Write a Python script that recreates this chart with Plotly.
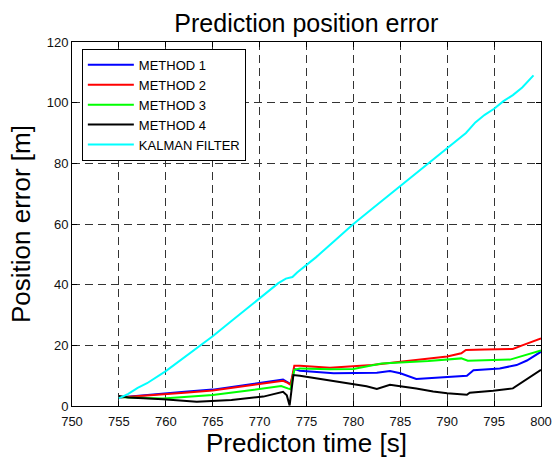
import plotly.graph_objects as go

# ---- data ----
kalman_t = [755, 756, 757, 758, 760, 762, 764, 765, 767, 769, 771, 772, 772.8, 773.5, 774, 776, 778, 780,
            782, 784, 786, 788, 790, 792, 793, 794, 795, 796, 797, 798, 799.2]
kalman_e = [2.5, 4, 6, 7.5, 11.5, 16, 20.5, 23, 28, 33, 38, 40.5, 42, 42.5, 44, 49, 54.5, 60,
            65, 70, 75, 80, 85, 90, 93.5, 96, 98, 100.5, 102.5, 105, 109]

m1_t = [755, 757, 759.7, 762, 765, 768.6, 771, 772.5, 773.0, 773.3, 773.7, 774.3, 777.9, 780, 782.5, 783.9,
        785, 786.7, 788, 790, 792.1, 792.8, 795.6, 797.4, 798.5, 800]
m1_e = [2.8, 3.4, 4.2, 4.7, 5.4, 6.9, 7.9, 8.7, 7.8, 7.2, 12.2, 11.6, 10.8, 10.9, 11.0, 11.5,
        10.8, 8.9, 9.2, 9.7, 10.0, 11.8, 12.4, 13.5, 15.0, 17.9]

m2_t = [755, 757, 759.7, 762, 765, 768.6, 771, 772.5, 773.0, 773.3, 773.7, 774.3, 777.5, 780, 782, 785,
        788, 790, 791.5, 792, 794, 797, 798, 800]
m2_e = [2.8, 3.2, 3.9, 4.4, 5.1, 6.6, 7.6, 8.3, 7.6, 7.0, 13.3, 13.3, 12.6, 13.0, 13.5, 14.6,
        15.5, 16.3, 17.4, 18.5, 18.6, 18.8, 20.0, 22.3]

m3_t = [755, 756, 759.7, 762, 765, 768.6, 771, 772.3, 773.0, 773.3, 773.7, 774.3, 777.5, 780, 783, 785,
        788, 791.5, 792.2, 796.7, 800]
m3_e = [3.0, 2.8, 2.5, 2.9, 3.6, 5.0, 6.0, 6.6, 5.8, 5.5, 11.9, 12.4, 12.1, 12.2, 14.0, 14.3,
        14.8, 15.7, 14.9, 15.3, 18.3]

m4_t = [755, 756, 759.7, 763.3, 767, 770.4, 772.5, 772.9, 773.2, 773.6, 774.3, 777.9, 781.4, 782.5, 783.9,
        785, 786.7, 788.5, 790, 792.1, 792.4, 794.9, 797, 800]
m4_e = [3.3, 2.8, 2.2, 1.4, 2.0, 3.1, 4.7, 3.5, 0.2, 10.2, 10.0, 8.1, 6.5, 5.6, 7.0,
        6.5, 5.8, 4.8, 4.2, 3.7, 4.4, 5.0, 5.8, 11.9]

names = ["METHOD 1", "METHOD 2", "METHOD 3", "METHOD 4", "KALMAN FILTER"]
colors = ["#0000FF", "#FF0000", "#00FF00", "#000000", "#00FFFF"]
series = [(m1_t, m1_e), (m2_t, m2_e), (m3_t, m3_e), (m4_t, m4_e), (kalman_t, kalman_e)]

x_ticks = [750, 755, 760, 765, 770, 775, 780, 785, 790, 795, 800]
y_ticks = [0, 20, 40, 60, 80, 100, 120]

fig = go.Figure()
for (t, e), n, c in zip(series, names, colors):
    fig.add_trace(go.Scatter(x=t, y=e, mode="lines", name=n,
                             line=dict(color=c, width=2)))

axis_common = dict(
    showline=True, linecolor="black", linewidth=1, mirror="ticks",
    ticks="inside", ticklen=5, tickcolor="black", automargin=False,
    showgrid=True, gridcolor="#333333", griddash="8px,5px", gridwidth=1,
    zeroline=False, tickfont=dict(family="Arial", size=13, color="#111111"),
)

fig.update_xaxes(range=[750, 800], tickvals=x_ticks, ticklabelstandoff=3, **axis_common)
fig.update_yaxes(range=[0, 120], tickvals=y_ticks,
                 title=dict(text="Position error [m]", font=dict(family="Arial", size=26, color="black"), standoff=8),
                 **axis_common)

fig.add_annotation(text="Predicton time [s]", xref="paper", yref="paper",
                   x=0.5, y=-0.102, xanchor="center", yanchor="middle", showarrow=False,
                   font=dict(family="Arial", size=26, color="black"))

fig.update_layout(
    width=558, height=457,
    margin=dict(l=72, r=17, t=42, b=51),
    paper_bgcolor="white", plot_bgcolor="white",
    title=dict(text="Prediction position error", x=0.549, xanchor="center",
               y=1 - 23 / 457, yanchor="middle",
               font=dict(family="Arial", size=25, color="black")),
    legend=dict(x=0.021, y=0.981, xanchor="left", yanchor="top",
                bordercolor="black", borderwidth=1, bgcolor="white",
                font=dict(family="Arial", size=13, color="black"),
                itemwidth=46, tracegroupgap=0),
    showlegend=True,
)

fig.write_html("out.html")
